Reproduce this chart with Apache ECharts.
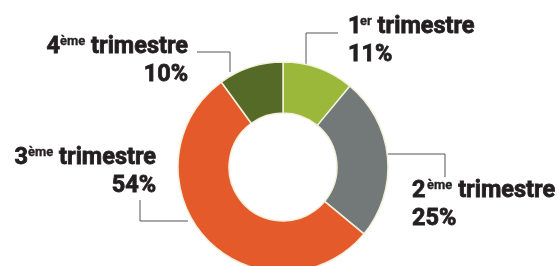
<!DOCTYPE html>
<html>
<head>
<meta charset="utf-8">
<script src="https://cdn.jsdelivr.net/npm/echarts@6/dist/echarts.min.js"></script>
<style>
html,body{margin:0;padding:0;background:#fff;}
#c{width:560px;height:266px;}
</style>
</head>
<body>
<div id="c"></div>
<script>
var categories = ['1', '2', '3', '4'];
var suffixes = ['er', 'ème', 'ème', 'ème'];
var values = [11, 25, 54, 10];
var colors = ['#9cb83b', '#737878', '#e55a2b', '#566a28'];

// label placement: [x, y, align], and elbow leader lines
var labelPos = [
  [348, 13, 'left'],
  [412, 177, 'left'],
  [156, 144, 'right'],
  [188, 33, 'right']
];
var leaderLines = [
  [[306, 64], [306, 33], [338, 33]],
  [[388, 154], [445, 154], [445, 177]],
  [[188, 221], [140, 221], [140, 200]],
  [[230, 72], [230, 52], [197, 52]]
];

var FONT = 'Roboto';
var FS = 23.5;
var TXT = '#231f20';

// measure ink width of the leading ordinal digit so the superscript hugs it
var ctx = document.createElement('canvas').getContext('2d');
ctx.font = 'bold ' + FS + 'px ' + FONT;
var rich = {
  n: { fontSize: FS, fontWeight: 'bold', fontFamily: FONT, color: TXT, lineHeight: 28, textBorderColor: TXT, textBorderWidth: 0.8 },
  s: { fontSize: 13, fontWeight: 'bold', fontFamily: FONT, color: TXT, lineHeight: 28, verticalAlign: 'top', padding: [2, 0, 0, 0], textBorderColor: TXT, textBorderWidth: 0.3 }
};
categories.forEach(function (c, i) {
  var m = ctx.measureText(c);
  var ink = (m.actualBoundingBoxRight != null) ? m.actualBoundingBoxRight : m.width;
  rich['d' + i] = { fontSize: FS, fontWeight: 'bold', fontFamily: FONT, color: TXT, lineHeight: 28, textBorderColor: TXT, textBorderWidth: 0.8, width: Math.ceil(ink + 2) };
});

var chart = echarts.init(document.getElementById('c'));
chart.setOption({
  animation: false,
  series: [{
    type: 'pie',
    center: [283, 167],
    radius: [54, 105],
    startAngle: 90,
    clockwise: true,
    avoidLabelOverlap: false,
    itemStyle: { borderColor: '#f3f1dc', borderWidth: 1.5 },
    label: {
      show: true,
      position: 'outside',
      color: TXT,
      fontFamily: FONT,
      formatter: function (p) {
        var i = p.dataIndex;
        return '{d' + i + '|' + categories[i] + '}{s|' + suffixes[i] + '}{n| trimestre}\n{n|' + values[i] + '%}';
      },
      rich: rich
    },
    labelLine: { show: true, lineStyle: { color: '#555555', width: 1 } },
    labelLayout: function (params) {
      var i = params.dataIndex;
      return {
        x: labelPos[i][0],
        y: labelPos[i][1],
        align: labelPos[i][2],
        verticalAlign: 'top',
        labelLinePoints: leaderLines[i]
      };
    },
    data: values.map(function (v, i) {
      return { name: categories[i], value: v, itemStyle: { color: colors[i] } };
    })
  }]
});
</script>
</body>
</html>
